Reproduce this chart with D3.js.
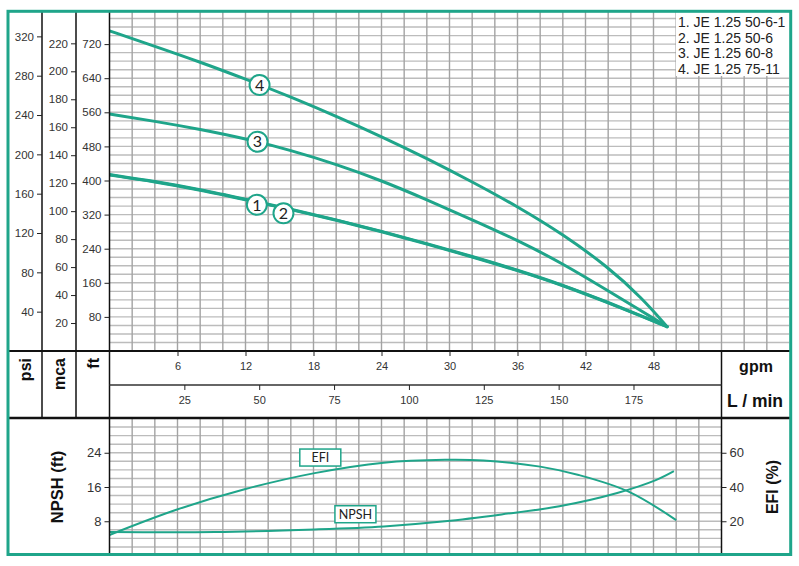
<!DOCTYPE html>
<html>
<head>
<meta charset="utf-8">
<script src="https://cdn.jsdelivr.net/npm/d3@7"></script>
<style>
  body { margin: 0; background: #fff; }
</style>
</head>
<body>
<div id="svg-container"></div>
<script>
// head curves, [gpm, head in ft]
const curve1 = [[0, 414], [4, 398], [8, 379], [12, 356], [16, 333], [20, 308], [24, 281], [28, 252], [32, 222], [36, 190], [40, 155], [44, 114], [47, 82], [49.2, 57]];
const curve2 = [[0, 413], [4, 397], [8, 378], [12, 355], [16, 332], [20, 307], [24, 280], [28, 251], [32, 221], [36, 189], [40, 154], [44, 113], [47, 81], [49.2, 57]];
const curve3 = [[0, 556], [4, 539], [8, 520], [12, 498], [16, 471], [20, 438], [24, 400], [28, 355], [32, 308], [36, 260], [40, 205], [44, 141], [47, 93], [49.2, 57]];
const curve4 = [[0, 751], [4, 715], [8, 678], [12, 638], [16, 596], [20, 551], [24, 503], [28, 452], [32, 397], [36, 339], [40, 274], [44, 197], [47, 124], [49.2, 57]];

// numbered markers on the curves, [gpm, ft]
const curveNames = ["1", "2", "3", "4"];
const curveMarks = [[13.0, 343], [15.35, 323], [13.06, 491], [13.24, 624]];

const legendLabels = ["1. JE 1.25 50-6-1", "2. JE 1.25 50-6", "3. JE 1.25 60-8", "4. JE 1.25 75-11"];

// lower chart: [gpm, %] and [gpm, ft]
const efiCurve = [[0, 12], [5.9, 26.7], [12, 38.8], [18.1, 48.1], [24.2, 54.2], [29.6, 55.9], [33, 55.5], [38, 51.9], [41.4, 47], [45.8, 37.3], [50, 20.7]];
const npshCurve = [[0, 5.5], [9.3, 5.5], [18.1, 6.1], [24.2, 6.8], [29.6, 8.0], [34.6, 9.6], [39.7, 11.5], [44.8, 14.6], [48.2, 17.6], [49.8, 19.7]];
const lowerNames = ["EFI", "NPSH"];
const lowerMarks = [[18.6, 57.2], [21.7, 24.1]]; // [gpm, %]

// axis ticks
const psiTicks = [40, 80, 120, 160, 200, 240, 280, 320];
const mcaTicks = [20, 40, 60, 80, 100, 120, 140, 160, 180, 200, 220];
const ftTicks = [80, 160, 240, 320, 400, 480, 560, 640, 720];
const gpmTicks = [6, 12, 18, 24, 30, 36, 42, 48];
const lminTicks = [25, 50, 75, 100, 125, 150, 175];
const npshTicks = [8, 16, 24];
const efiTicks = [20, 40, 60];

document.addEventListener("DOMContentLoaded", function() {

const width = 799, height = 566;
const green = "#1fa58a";
const arial = "'Liberation Sans', Arial, sans-serif";
const soft = "Lato, 'Noto Sans', sans-serif";

const svg = d3.select("#svg-container").append("svg")
    .attr("width", width)
    .attr("height", height)
    .attr("viewBox", [0, 0, width, height]);

svg.append("rect").attr("width", width).attr("height", height).attr("fill", "#fff");

// scales
const x = d3.scaleLinear().domain([0, 60]).range([109.5, 789.5]);
const xL = d3.scaleLinear().domain([0, 60 * 3.785]).range(x.range());
const yFt = d3.scaleLinear().domain([0, 800]).range([351, 10]);
const yPsi = d3.scaleLinear().domain([0, 800 / 2.3067]).range(yFt.range());
const yMca = d3.scaleLinear().domain([0, 800 / 3.2808]).range(yFt.range());
const yNpsh = d3.scaleLinear().domain([0, 32]).range([555.5, 418.5]);
const yEfi = d3.scaleLinear().domain([0, 80]).range([555.5, 418.5]);

const defs = svg.append("defs");
defs.append("clipPath").attr("id", "clipTop")
    .append("rect").attr("x", x(0)).attr("y", 12).attr("width", x(60) - x(0)).attr("height", 351 - 12);
defs.append("clipPath").attr("id", "clipBottom")
    .append("rect").attr("x", x(0)).attr("y", 418).attr("width", x(54) - x(0)).attr("height", 137);

// --- top chart grid
const gridTop = svg.append("g").attr("clip-path", "url(#clipTop)");
gridTop.selectAll(".h")
    .data(d3.range(20, 800, 20))
    .join("line")
    .attr("x1", x(0)).attr("x2", x(60))
    .attr("y1", d => yFt(d)).attr("y2", d => yFt(d))
    .attr("stroke", "#bcbcbc").attr("stroke-width", 1.4);
gridTop.selectAll(".v")
    .data(d3.range(2, 60, 2))
    .join("line")
    .attr("x1", d => x(d)).attr("x2", d => x(d))
    .attr("y1", 12).attr("y2", 351)
    .attr("stroke", "#a3a3a3").attr("stroke-width", 1.4);

// legend (white box over the grid)
svg.append("rect")
    .attr("x", 676).attr("y", 12).attr("width", 114).attr("height", 64)
    .attr("fill", "#fff");
svg.append("g")
    .selectAll()
    .data(legendLabels)
    .join("text")
    .attr("x", 678)
    .attr("y", (d, i) => 22 + i * 15.7)
    .attr("dy", "0.35em")
    .attr("font-family", arial)
    .attr("font-size", 14)
    .attr("fill", "#222")
    .text(d => d);

// head curves
const line = d3.line()
    .x(d => x(d[0]))
    .y(d => yFt(d[1]))
    .curve(d3.curveBasis);

svg.append("g")
    .attr("clip-path", "url(#clipTop)")
    .attr("fill", "none")
    .attr("stroke", green)
    .attr("stroke-width", 3)
    .attr("stroke-linecap", "round")
    .selectAll()
    .data([curve1, curve2, curve3, curve4])
    .join("path")
    .attr("d", line);

// numbered markers
const marks = svg.append("g")
    .selectAll()
    .data(curveMarks)
    .join("g")
    .attr("transform", d => `translate(${x(d[0])},${yFt(d[1])})`);
marks.append("circle")
    .attr("r", 10)
    .attr("fill", "#fff")
    .attr("stroke", green)
    .attr("stroke-width", 2);
marks.append("text")
    .attr("text-anchor", "middle")
    .attr("dy", "0.36em")
    .attr("font-family", soft)
    .attr("font-size", 16)
    .attr("fill", "#222")
    .text((d, i) => curveNames[i]);

// --- lower chart grid
const gridBottom = svg.append("g").attr("clip-path", "url(#clipBottom)");
gridBottom.selectAll(".h")
    .data(d3.range(2, 32, 2))
    .join("line")
    .attr("x1", x(0)).attr("x2", x(54))
    .attr("y1", d => yNpsh(d)).attr("y2", d => yNpsh(d))
    .attr("stroke", "#bcbcbc").attr("stroke-width", 1.4);
gridBottom.selectAll(".v")
    .data(d3.range(2, 54, 2))
    .join("line")
    .attr("x1", d => x(d)).attr("x2", d => x(d))
    .attr("y1", 418).attr("y2", 555)
    .attr("stroke", "#a3a3a3").attr("stroke-width", 1.4);

// efi + npsh curves
const efiLine = d3.line().x(d => x(d[0])).y(d => yEfi(d[1])).curve(d3.curveCatmullRom.alpha(0.5));
const npshLine = d3.line().x(d => x(d[0])).y(d => yNpsh(d[1])).curve(d3.curveCatmullRom.alpha(0.5));

const lower = svg.append("g")
    .attr("fill", "none")
    .attr("stroke", green)
    .attr("stroke-width", 2);
lower.append("path").attr("d", efiLine(efiCurve));
lower.append("path").attr("d", npshLine(npshCurve));

const boxes = svg.append("g")
    .selectAll()
    .data(lowerMarks)
    .join("g")
    .attr("transform", d => `translate(${x(d[0])},${yEfi(d[1])})`);
boxes.append("rect")
    .attr("x", -20.5).attr("y", -8.5)
    .attr("width", 41).attr("height", 17)
    .attr("fill", "#fff")
    .attr("stroke", green)
    .attr("stroke-width", 1.5);
boxes.append("text")
    .attr("text-anchor", "middle")
    .attr("dy", "0.36em")
    .attr("font-family", soft)
    .attr("font-size", 12.5)
    .attr("fill", "#222")
    .text((d, i) => lowerNames[i]);

// --- frame lines
const frame = svg.append("g").attr("stroke", "#111");
frame.append("line").attr("x1", 42).attr("x2", 42).attr("y1", 12).attr("y2", 418).attr("stroke-width", 1.5);
frame.append("line").attr("x1", 76).attr("x2", 76).attr("y1", 12).attr("y2", 418).attr("stroke-width", 1.5);
frame.append("line").attr("x1", x(0)).attr("x2", x(0)).attr("y1", 12).attr("y2", 555).attr("stroke-width", 1.5);
frame.append("line").attr("x1", x(54)).attr("x2", x(54)).attr("y1", 351).attr("y2", 555).attr("stroke-width", 1.5);
frame.append("line").attr("x1", 9).attr("x2", 790).attr("y1", 351).attr("y2", 351).attr("stroke-width", 2);
frame.append("line").attr("x1", x(0)).attr("x2", x(54)).attr("y1", 385).attr("y2", 385).attr("stroke-width", 1.5).attr("stroke", "#333");
frame.append("line").attr("x1", 9).attr("x2", 790).attr("y1", 418).attr("y2", 418).attr("stroke-width", 2.5);

// --- axes
function styleAxis(g, size) {
    g.select(".domain").remove();
    g.selectAll(".tick line").attr("stroke", "#222");
    g.selectAll(".tick text").attr("fill", "#333").attr("font-size", size);
}

svg.append("g")
    .attr("transform", "translate(42,0)")
    .attr("font-family", arial)
    .call(d3.axisLeft(yPsi).tickValues(psiTicks).tickSize(5).tickPadding(3))
    .call(g => styleAxis(g, 11.5));
svg.append("g")
    .attr("transform", "translate(76,0)")
    .attr("font-family", arial)
    .call(d3.axisLeft(yMca).tickValues(mcaTicks).tickSize(5).tickPadding(3))
    .call(g => styleAxis(g, 11.5));
svg.append("g")
    .attr("transform", `translate(${x(0)},0)`)
    .attr("font-family", arial)
    .call(d3.axisLeft(yFt).tickValues(ftTicks).tickSize(5).tickPadding(3))
    .call(g => styleAxis(g, 11.5));

svg.append("g")
    .attr("transform", "translate(0,351)")
    .attr("font-family", arial)
    .call(d3.axisBottom(x).tickValues(gpmTicks).tickSize(5).tickPadding(6))
    .call(g => styleAxis(g, 11));
svg.append("g")
    .attr("transform", "translate(0,385)")
    .attr("font-family", arial)
    .call(d3.axisBottom(xL).tickValues(lminTicks).tickSize(5).tickPadding(6))
    .call(g => styleAxis(g, 11));

svg.append("g")
    .attr("transform", `translate(${x(0)},0)`)
    .attr("font-family", soft)
    .call(d3.axisLeft(yNpsh).tickValues(npshTicks).tickSize(5).tickPadding(3))
    .call(g => styleAxis(g, 13));
svg.append("g")
    .attr("transform", `translate(${x(54)},0)`)
    .attr("font-family", soft)
    .call(d3.axisRight(yEfi).tickValues(efiTicks).tickSize(5).tickPadding(3))
    .call(g => styleAxis(g, 13));

// --- unit titles
const titles = svg.append("g")
    .attr("font-family", arial)
    .attr("font-weight", "bold")
    .attr("fill", "#111");
[["psi", 25], ["mca", 59], ["ft", 93]].forEach(([t, cx]) => {
    titles.append("text")
        .attr("transform", `translate(${cx},358) rotate(-90)`)
        .attr("text-anchor", "end")
        .attr("dy", "0.35em")
        .attr("font-size", 16)
        .text(t);
});
titles.append("text")
    .attr("x", 756).attr("y", 366).attr("dy", "0.35em")
    .attr("text-anchor", "middle").attr("font-size", 16)
    .text("gpm");
titles.append("text")
    .attr("x", 755).attr("y", 401).attr("dy", "0.35em")
    .attr("text-anchor", "middle").attr("font-size", 17.5)
    .text("L / min");
titles.append("text")
    .attr("transform", "translate(57,487) rotate(-90)")
    .attr("text-anchor", "middle").attr("dy", "0.35em")
    .attr("font-size", 16.5)
    .text("NPSH (ft)");
titles.append("text")
    .attr("transform", "translate(772,487) rotate(-90)")
    .attr("text-anchor", "middle").attr("dy", "0.35em")
    .attr("font-size", 16)
    .text("EFI (%)");

// outer green frame
svg.append("rect")
    .attr("x", 8).attr("y", 11.3)
    .attr("width", 782.7).attr("height", 543.2)
    .attr("fill", "none")
    .attr("stroke", green)
    .attr("stroke-width", 3);

});
</script>
</body>
</html>
